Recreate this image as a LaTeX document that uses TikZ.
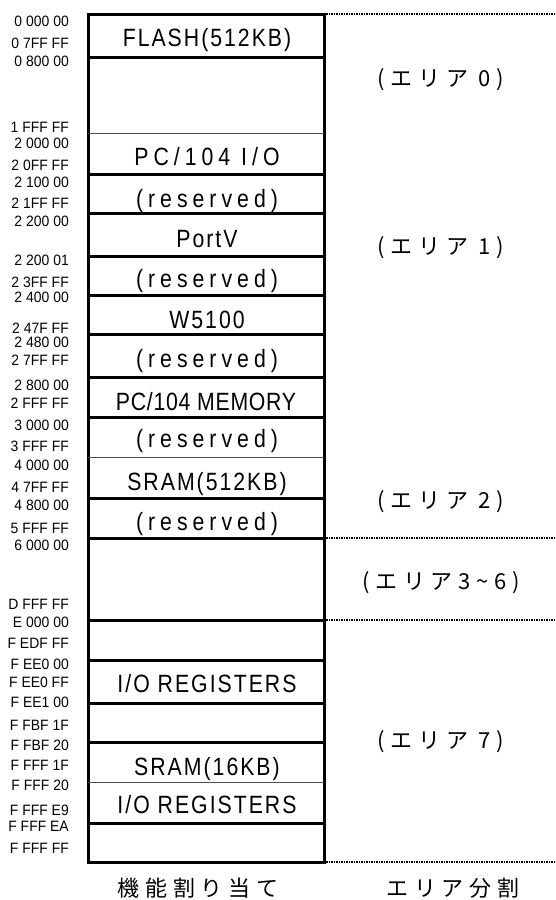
\documentclass[tikz,border=0pt]{standalone}
\usepackage{fontspec}
\setmainfont{Liberation Sans}
\newfontfamily\addrfont[FakeStretch=0.93]{Liberation Sans}
\newfontfamily\boxfont[FakeStretch=0.85,LetterSpace=8]{Liberation Sans}
\newfontfamily\narrowfont[FakeStretch=0.85,LetterSpace=3]{Liberation Sans}
\newfontfamily\widefont[FakeStretch=0.85,LetterSpace=20]{Liberation Sans}
\newfontfamily\jpfont[LetterSpace=26]{Noto Sans CJK JP}
\newfontfamily\capfont[LetterSpace=27]{Noto Sans CJK JP}
\begin{document}
\begin{tikzpicture}[x=1pt,y=-1pt,
  addr/.style={anchor=base east,inner sep=0pt,font=\addrfont\fontsize{15}{17}\selectfont},
  cell/.style={anchor=base,inner sep=0pt,font=\boxfont\fontsize{25}{30}\selectfont},
  ncell/.style={anchor=base,inner sep=0pt,font=\narrowfont\fontsize{25}{30}\selectfont},
  wcell/.style={anchor=base,inner sep=0pt,font=\widefont\fontsize{25}{30}\selectfont},
  area/.style={inner sep=0pt,font=\jpfont\fontsize{22}{26}\selectfont},
  caption/.style={inner sep=0pt,font=\capfont\fontsize{22}{26}\selectfont},
  thickline/.style={line width=3pt},
  thinline/.style={line width=0.8pt,black!70},
  dotline/.style={line width=2pt,dash pattern=on 1.5pt off 1pt}]
\useasboundingbox (0,0) rectangle (555,900);
% box
\draw[thickline] (88,14) rectangle (324,862);
\foreach \y in {57,174,213,256,295,334,377,417,498,538,620,660,703,742,823}
  \draw[thickline] (88,\y) -- (324,\y);
\foreach \y in {133,457,782}
  \draw[thinline] (88,\y) -- (324,\y);
% dotted area boundaries
\foreach \y in {14,538,620,862}
  \draw[dotline] (326,\y) -- (555,\y);
% address labels
\foreach \y/\t [count=\i] in {
  21/0 000 00, 43/0 7FF FF, 61/0 800 00, 127/1 FFF FF, 143/2 000 00,
  165/2 0FF FF, 182/2 100 00, 203/2 1FF FF, 221/2 200 00, 260/2 200 01,
  282/2 3FF FF, 297/2 400 00, 328/2 47F FF, 342/2 480 00, 360/2 7FF FF,
  385/2 800 00, 403/2 FFF FF, 425/3 000 00, 446/3 FFF FF, 465/4 000 00,
  487/4 7FF FF, 505/4 800 00, 528/5 FFF FF, 545/6 000 00, 604/D FFF FF,
  622/E 000 00, 643/F EDF FF, 664/F EE0 00, 682/F EE0 FF, 702/F EE1 00,
  725/F FBF 1F, 745/F FBF 20, 765/F FFF 1F, 785/F FFF 20, 810/F FFF E9,
  826/F FFF EA, 848/F FFF FF}
  \node[addr] (a\i) at (69,\y+5.3) {\t};
% cell texts
\node[cell]  (flash) at (207,46) {FLASH(512KB)};
\node[wcell] (pcio)  at (207,165) {PC/104\ I/O};
\node[wcell] (res1)  at (207,207) {(reserved)};
\node[cell]  (portv) at (207,247) {PortV};
\node[wcell] (res2)  at (207,287) {(reserved)};
\node[cell]  (w5100) at (207,328) {W5100};
\node[wcell] (res3)  at (207,367) {(reserved)};
\node[ncell] (pcmem) at (206,410) {PC/104\ MEMORY};
\node[wcell] (res4)  at (207,447) {(reserved)};
\node[cell]  (sram1) at (207,490) {SRAM(512KB)};
\node[wcell] (res5)  at (207,530) {(reserved)};
\node[cell]  (ioreg1) at (207,692) {I/O REGISTERS};
\node[cell]  (sram2) at (207,775) {SRAM(16KB)};
\node[cell]  (ioreg2) at (207,813) {I/O REGISTERS};
% area labels
\node[area] (ar0) at (441,80) {(エリア 0)};
\node[area] (ar1) at (441,248) {(エリア 1)};
\node[area] (ar2) at (441,502) {(エリア 2)};
\node[area] (ar36) at (441,583) {(エリア3\string~6)};
\node[area] (ar7) at (441,742) {(エリア 7)};
% captions
\node[caption] (cap1) at (198,888) {機能割り当て};
\node[caption] (cap2) at (453,888) {エリア分割};
\end{tikzpicture}
\end{document}
